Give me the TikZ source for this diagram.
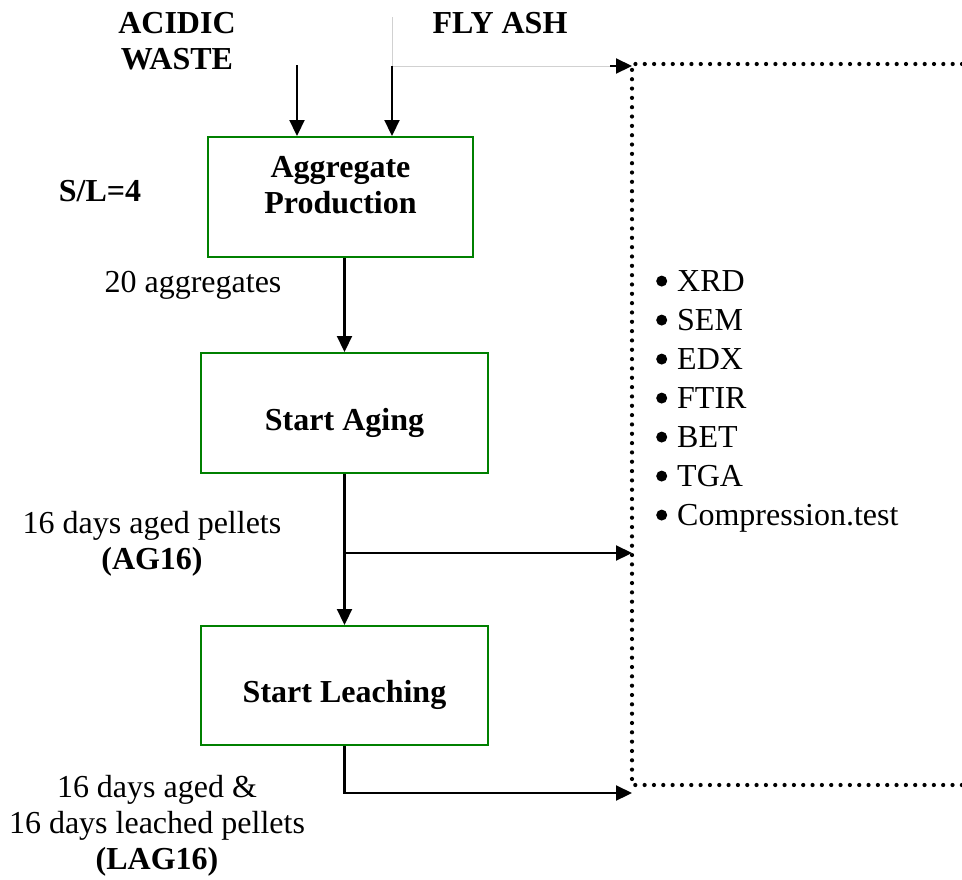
\documentclass[tikz,border=0pt]{standalone}
\usepackage{fontspec}
\setmainfont{Liberation Serif}
\usetikzlibrary{arrows.meta}

\newcommand{\bigtext}{\fontsize{32}{36}\selectfont}
\newcommand{\itemdot}{\makebox[21pt][l]{\tikz[baseline=0pt]\fill (5.5pt,10pt) circle[radius=5.5pt];}}

\tikzset{
  stage/.style={draw=green!50!black, line width=2pt, font=\bigtext\bfseries,
    align=center, inner sep=0pt},
  flow/.style={line width=2.2pt, -{Triangle[length=16pt,width=15pt]}},
  feed/.style={line width=1pt, black!18},
  dotline/.style={line width=4.2pt, line cap=round, dash pattern=on 0pt off 9.33pt},
  lbl/.style={align=center, inner sep=0pt, font=\bigtext},
  blbl/.style={align=center, inner sep=0pt, font=\bigtext\bfseries},
}

\begin{document}
\begin{tikzpicture}[x=1pt, y=-1pt, font=\bigtext]
\useasboundingbox (0,0) rectangle (962,879);

% process stages
\node[stage, minimum width=265pt, minimum height=120pt, text depth=24pt]
  (prod) at (340.5,197) {Aggregate\\Production};
\node[stage, minimum width=287pt, minimum height=120pt, text height=42pt]
  (aging) at (344.5,413) {Start Aging};
\node[stage, minimum width=287pt, minimum height=119pt, text height=42pt]
  (leach) at (344.5,685.5) {Start Leaching};

% inputs
\node[blbl] (acid) at (177,41) {ACIDIC\\WASTE};
\node[blbl] (ash) at (500,23) {FLY ASH};
\node[blbl] (sl) at (100,191) {S/L=4};

% side labels
\node[lbl] (n20) at (193,285) {20 aggregates};
\node[lbl] (ag) at (152,544) {16 days aged pellets\\\textbf{(AG16)}};
\node[lbl] (lag) at (157,826) {16 days aged \&\\16 days leached pellets\\\textbf{(LAG16)}};

% characterisation frame (open on the right)
\coordinate (ftl) at (632,64);
\coordinate (fbl) at (632,785);
\draw[dotline] (962,64) -- (ftl) -- (fbl) -- (962,785);

\node[anchor=west, align=left, inner sep=0pt, font=\fontsize{32}{39}\selectfont]
  (tests) at (656,401)
  {\itemdot XRD\\\itemdot SEM\\\itemdot EDX\\\itemdot FTIR\\\itemdot BET\\\itemdot TGA\\\itemdot Compression.test};

% feed lines
\coordinate (acidtop) at (297,65);
\coordinate (ashtop) at (392,17);
\coordinate (ashsplit) at (392,66);
\coordinate (ashgrey) at (610,66);
\draw[flow] (acidtop) -- (acidtop |- prod.north);
\draw[feed] (ashtop) -- (ashsplit) -- (ashgrey);
\draw[flow] (ashsplit) -- (ashsplit |- prod.north);
\draw[flow] (ashgrey) -- (ftl |- ashgrey);

% main sequence
\draw[flow] (prod.south -| aging.north) -- (aging.north);
\draw[flow] (aging.south) -- (leach.north);
\coordinate (agsplit) at (aging.south |- 0,553);
\draw[flow] (agsplit) -- (ftl |- agsplit);
\coordinate (lagturn) at (leach.south |- 0,793);
\draw[flow] (leach.south) -- (lagturn) -- (ftl |- lagturn);
\end{tikzpicture}
\end{document}
